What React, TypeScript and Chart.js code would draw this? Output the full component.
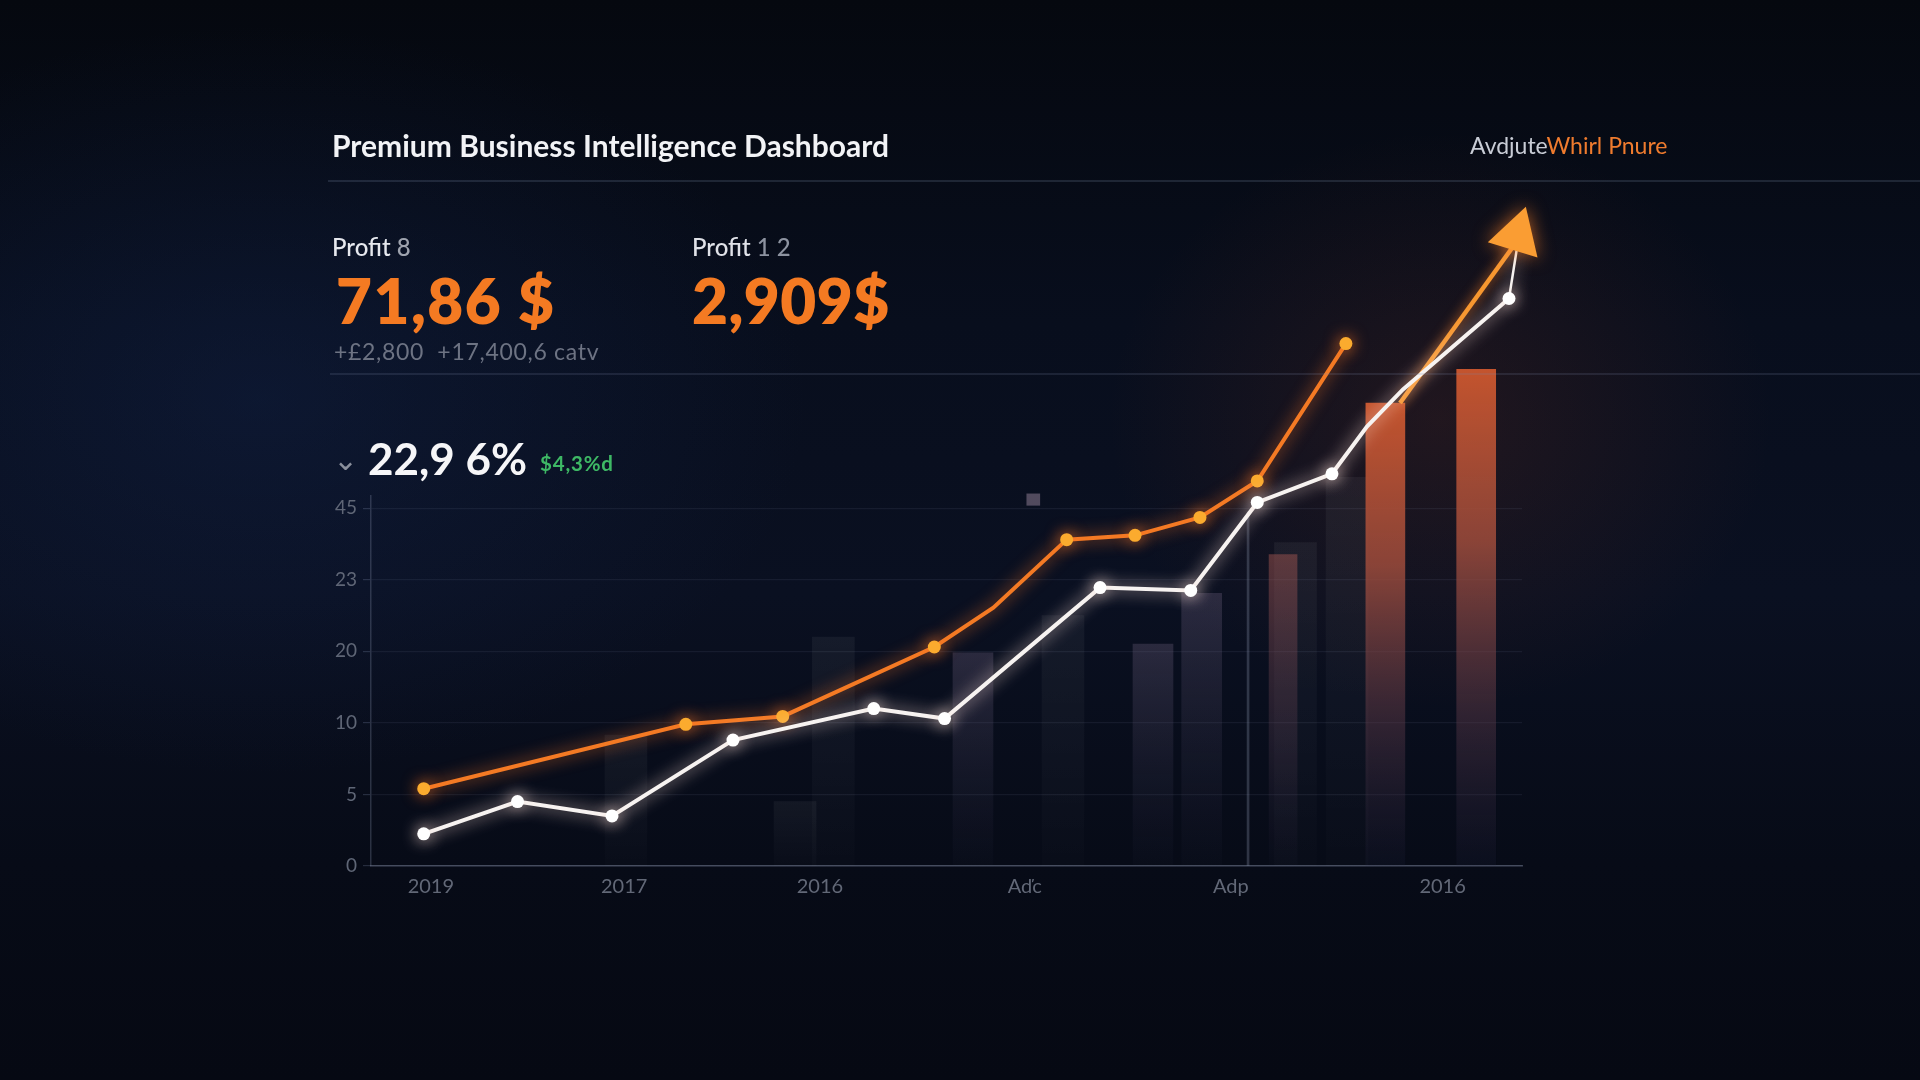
import { useEffect, useRef } from 'react';
import { Chart, registerables } from 'chart.js';

Chart.register(...registerables);

// ---- axis labels ----
const xTickPositions = [5.2, 22.0, 39.0, 56.8, 74.7, 93.1];
const xTickLabels = ['2019', '2017', '2016', 'Aďc', 'Adp', '2016'];
const yTickValues = [0, 1, 2, 3, 4, 5];
const yTickLabels = ['0', '5', '10', '20', '23', '45'];

// ---- orange series (x in % of timeline, y in grid steps) ----
const orangeX = [4.58, 27.35, 35.77, 48.94, 54.07, 60.44, 66.38, 72.02, 77.0, 84.7];
const orangeY = [1.08, 1.98, 2.09, 3.06, 3.61, 4.56, 4.62, 4.87, 5.38, 7.3];

// ---- white series ----
const whiteX = [4.58, 12.73, 20.94, 31.45, 43.68, 49.83, 63.34, 71.22, 77.0, 83.49, 86.53, 89.66, 98.87, 99.54];
const whiteY = [0.45, 0.9, 0.7, 1.76, 2.2, 2.06, 3.89, 3.85, 5.08, 5.48, 6.14, 6.66, 7.93, 8.61];

// ---- trend to arrow ----
const trendX = [89.4, 99.2];
const trendY = [6.47, 8.65];
const arrowX = [99.57];
const arrowY = [8.81];

// ---- background bars ----
const ghostBarX = [22.15, 36.84, 40.17, 60.12, 80.32, 84.8];
const ghostBarTop = [1.83, 0.9, 3.2, 3.5, 4.52, 5.43];
const slateBarX = [52.3, 67.94, 72.17];
const slateBarTop = [2.98, 3.1, 3.81];
const emberBarX = [79.24];
const emberBarTop = [4.35];
const orangeBarX = [88.13, 96.02];
const orangeBarTop = [6.47, 6.94];
const markerX = [57.54];
const markerRange = [[5.04, 5.2]];
const guideX = [76.2];
const guideTop = [4.95];

const ORANGE_BENDS = [4];
const WHITE_BENDS = [10, 11, 13];

const xy = (xs: number[], ys: any[]) => xs.map((x, i) => ({ x, y: ys[i] }));

const fade = (stops: [number, string][]) => (c: any) => {
  const chart = c.chart;
  if (!chart.chartArea || !c.raw) return stops[0][1];
  const ys = chart.scales.y;
  const v = Array.isArray(c.raw.y) ? c.raw.y[1] : c.raw.y;
  const y0 = ys.getPixelForValue(v);
  const y1 = ys.getPixelForValue(0);
  const g = chart.ctx.createLinearGradient(0, y0, 0, y1);
  stops.forEach(([o, col]) => g.addColorStop(o, col));
  return g;
};

const glowPlugin = {
  id: 'glow',
  beforeDatasetDraw(chart: any, args: any) {
    const ds: any = chart.data.datasets[args.index];
    chart.ctx.save();
    if (ds.glowColor) {
      chart.ctx.shadowColor = ds.glowColor;
      chart.ctx.shadowBlur = ds.glowBlur ?? 12;
    }
  },
  afterDatasetDraw(chart: any) {
    chart.ctx.restore();
  },
};

export default function App() {
  const canvasRef = useRef<HTMLCanvasElement>(null);

  useEffect(() => {
    const canvas = canvasRef.current;
    if (!canvas) return;
    const chart = new Chart(canvas, {
      type: 'bar',
      data: {
        datasets: [
          {
            type: 'line',
            label: 'Revenue',
            data: xy(orangeX, orangeY),
            borderColor: '#f47a24',
            borderWidth: 4,
            pointRadius: (c: any) => (ORANGE_BENDS.includes(c.dataIndex) ? 0 : 6.5),
            pointBackgroundColor: '#fbab2e',
            pointBorderWidth: 0,
            glowColor: 'rgba(255,120,40,0.85)',
            glowBlur: 16,
            order: 2,
            clip: false,
          } as any,
          {
            type: 'line',
            label: 'Profit',
            data: xy(whiteX, whiteY),
            borderColor: '#f7f3f1',
            borderWidth: 4,
            segment: {
              borderWidth: (c: any) => (c.p1DataIndex === whiteX.length - 1 ? 2.5 : 4),
            },
            pointRadius: (c: any) => (WHITE_BENDS.includes(c.dataIndex) ? 0 : 6.5),
            pointBackgroundColor: '#ffffff',
            pointBorderWidth: 0,
            glowColor: 'rgba(255,225,215,0.9)',
            glowBlur: 16,
            order: 1,
            clip: false,
          } as any,
          {
            type: 'line',
            label: 'Trend',
            data: xy(trendX, trendY),
            borderColor: '#f7972f',
            borderWidth: 4.5,
            pointRadius: 0,
            glowColor: 'rgba(255,130,40,0.8)',
            glowBlur: 12,
            order: 3,
            clip: false,
          } as any,
          {
            type: 'line',
            label: 'Arrow',
            data: xy(arrowX, arrowY),
            showLine: false,
            pointStyle: 'triangle',
            pointRadius: 30,
            pointRotation: 17,
            pointBackgroundColor: '#fa9d33',
            pointBorderWidth: 0,
            glowColor: 'rgba(255,130,40,0.7)',
            glowBlur: 18,
            order: 0,
            clip: false,
          } as any,
          {
            type: 'bar',
            label: 'ghost',
            data: xy(ghostBarX, ghostBarTop),
            barThickness: 42,
            grouped: false,
            borderWidth: 0,
            backgroundColor: fade([[0, 'rgba(255,255,255,0.05)'], [1, 'rgba(255,255,255,0.01)']]),
            order: 14,
            clip: false,
          } as any,
          {
            type: 'bar',
            label: 'slate',
            data: xy(slateBarX, slateBarTop),
            barThickness: 40,
            grouped: false,
            borderWidth: 0,
            backgroundColor: fade([[0, 'rgba(120,105,135,0.3)'], [1, 'rgba(60,60,90,0.05)']]),
            order: 13,
            clip: false,
          } as any,
          {
            type: 'bar',
            label: 'ember',
            data: xy(emberBarX, emberBarTop),
            barThickness: 28,
            grouped: false,
            borderWidth: 0,
            backgroundColor: fade([[0, 'rgba(160,85,80,0.5)'], [0.6, 'rgba(100,70,90,0.25)'], [1, 'rgba(50,50,80,0.05)']]),
            order: 12,
            clip: false,
          } as any,
          {
            type: 'bar',
            label: 'guide',
            data: xy(guideX, guideTop),
            barThickness: 2,
            grouped: false,
            borderWidth: 0,
            backgroundColor: 'rgba(150,160,185,0.28)',
            order: 12,
            clip: false,
          } as any,
          {
            type: 'bar',
            label: 'marker',
            data: xy(markerX, markerRange),
            barThickness: 13,
            grouped: false,
            borderWidth: 0,
            backgroundColor: 'rgba(105,95,115,0.75)',
            order: 11,
            clip: false,
          } as any,
          {
            type: 'bar',
            label: 'orangeBars',
            data: xy(orangeBarX, orangeBarTop),
            barThickness: 39,
            grouped: false,
            borderWidth: 0,
            backgroundColor: fade([
              [0, 'rgba(196,84,46,1)'],
              [0.35, 'rgba(158,76,60,0.85)'],
              [0.7, 'rgba(95,60,75,0.45)'],
              [1, 'rgba(40,40,70,0.15)'],
            ]),
            order: 10,
            clip: false,
          } as any,
        ],
      },
      options: {
        responsive: false,
        animation: false,
        events: [],
        layout: { padding: { left: 311, top: 186, right: 398, bottom: 170 } },
        plugins: { legend: { display: false }, tooltip: { enabled: false } },
        scales: {
          x: {
            type: 'linear',
            position: 'bottom',
            offset: false,
            min: 0,
            max: 100,
            afterBuildTicks: (s: any) => {
              s.ticks = xTickPositions.map((v) => ({ value: v }));
            },
            afterFit: (s: any) => {
              s.height = 44;
            },
            ticks: {
              callback: (_v: any, i: number) => xTickLabels[i],
              color: '#626877',
              font: { family: 'Lato, "DejaVu Sans", sans-serif', size: 20 },
              padding: 9,
              maxRotation: 0,
              autoSkip: false,
            },
            grid: { display: false, drawTicks: false, offset: false },
            border: { display: true, color: 'rgba(130,140,165,0.45)', width: 1.5 },
          },
          y: {
            type: 'linear',
            position: 'left',
            stack: 'left',
            stackWeight: 370,
            weight: 0,
            min: 0,
            max: 5.17,
            afterBuildTicks: (s: any) => {
              s.ticks = yTickValues.map((v) => ({ value: v }));
            },
            afterFit: (s: any) => {
              s.width = 60;
            },
            ticks: {
              callback: (_v: any, i: number) => yTickLabels[i],
              color: '#5f6676',
              font: { family: 'Lato, "DejaVu Sans", sans-serif', size: 19 },
              padding: 6,
            },
            grid: {
              color: 'rgba(150,165,200,0.09)',
              lineWidth: 1.2,
              tickLength: 8,
              drawTicks: true,
              tickColor: 'rgba(150,165,200,0.22)',
            },
            border: { display: true, color: 'rgba(130,140,165,0.3)', width: 1.5 },
          },
          yTop: {
            type: 'linear',
            position: 'left',
            stack: 'left',
            stackWeight: 310,
            weight: 1,
            min: 0,
            max: 1,
            afterFit: (s: any) => {
              s.width = 60;
            },
            ticks: { display: false },
            grid: { display: false },
            border: { display: false },
          },
        },
      } as any,
      plugins: [glowPlugin as any],
    });
    return () => chart.destroy();
  }, []);

  const abs = (left: number, cy: number, extra: any = {}) => ({
    position: 'absolute' as const,
    left,
    top: cy,
    transform: 'translateY(-50%)',
    lineHeight: 1,
    whiteSpace: 'nowrap' as const,
    ...extra,
  });

  return (
    <div
      style={{
        position: 'fixed',
        left: 0,
        top: 0,
        width: 1920,
        height: 1080,
        overflow: 'hidden',
        fontFamily: 'Lato, "Noto Sans", sans-serif',
        background:
          'radial-gradient(ellipse 460px 400px at 1440px 420px, rgba(120,50,30,0.22), rgba(120,50,30,0) 72%),' +
          'radial-gradient(ellipse 760px 520px at 260px 400px, rgba(22,42,88,0.32), rgba(22,42,88,0) 72%),' +
          'linear-gradient(180deg, #05080f 0%, #080e1d 30%, #0a1021 55%, #070b17 80%, #060913 100%)',
      }}
    >
      <canvas
        ref={canvasRef}
        width={1920}
        height={1080}
        style={{ position: 'absolute', left: 0, top: 0, width: 1920, height: 1080 }}
      />
      <div style={{ position: 'absolute', left: 328, top: 180, width: 1592, height: 1.5, background: 'rgba(120,135,165,0.22)' }} />
      <div style={{ position: 'absolute', left: 330, top: 373, width: 1590, height: 1.5, background: 'rgba(120,135,165,0.18)' }} />

      <div style={abs(332, 145, { fontSize: 30, fontWeight: 700, color: '#f2f3f6' })}>
        Premium Business Intelligence Dashboard
      </div>
      <div style={abs(1470, 145, { fontSize: 23, fontWeight: 400 })}>
        <span style={{ color: '#c9cdd6' }}>Avdjute</span>
        <span style={{ color: '#ef7b2e' }}>Whirl Pnure</span>
      </div>

      <div style={abs(332, 247, { fontSize: 24, fontWeight: 500, color: '#e6e8ee' })}>
        Profit <span style={{ color: '#9ea3ae' }}>8</span>
      </div>
      <div style={abs(336, 300, { fontSize: 62, fontWeight: 800, color: '#f47a22', letterSpacing: 1.5 })}>
        71,86 $
      </div>
      <div style={abs(692, 247, { fontSize: 24, fontWeight: 500, color: '#e0e2e8' })}>
        Profit <span style={{ color: '#8d93a0' }}>1 2</span>
      </div>
      <div style={abs(692, 300, { fontSize: 62, fontWeight: 800, color: '#f47a22', letterSpacing: 0.5 })}>
        2,909$
      </div>
      <div style={abs(334, 351, { fontSize: 23, fontWeight: 400, color: '#6d7383', letterSpacing: 0.7 })}>
        +£2,800&nbsp;&nbsp;+17,400,6 catv
      </div>

      <div style={abs(333, 458, { fontSize: 30, color: '#8a8f9c' })}>⌄</div>
      <div style={abs(368, 458, { fontSize: 44, fontWeight: 700, color: '#f6f6f8' })}>22,9 6%</div>
      <div style={abs(540, 463, { fontSize: 20.5, fontWeight: 700, color: '#3eb865', letterSpacing: 0.8 })}>$4,3%d</div>
    </div>
  );
}
